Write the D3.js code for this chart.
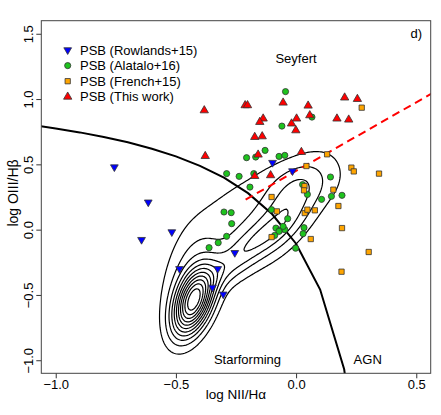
<!DOCTYPE html>
<meta charset="utf-8">
<title>BPT diagram - PSB</title>
<style>
  body { margin: 0; background: #fff; }
  text { font-family: "Liberation Sans", Arial, sans-serif; fill: #000; }
</style>
<body>
<script src="https://d3js.org/d3.v7.min.js"></script>
<script>
// ---- data (log NII/Ha, log OIII/Hb) ----
const rowlands = [[-0.756,0.479],[-0.615,0.210],[-0.643,-0.077],[-0.517,-0.018],[-0.485,-0.300],
  [-0.326,-0.300],[-0.255,-0.177],[-0.348,-0.442],[-0.303,-0.495],[-0.098,0.513],[-0.015,0.449]];

const alatalo = [[-0.044,1.057],[0.066,0.862],[-0.059,0.793],[-0.129,0.607],[-0.206,0.551],[-0.168,0.556],
  [-0.071,0.561],[-0.047,0.569],[-0.289,0.429],[-0.237,0.408],[-0.176,0.429],[0.143,0.403],[0.027,0.345],
  [-0.192,0.326],[0.047,0.270],[0.147,0.255],[0.191,0.263],[0.106,0.232],[-0.300,0.135],[-0.270,0.130],
  [-0.268,0.046],[-0.289,-0.051],[-0.324,-0.100],[-0.362,-0.138],[-0.102,0.153],[-0.035,0.084],
  [-0.084,0.012],[-0.068,-0.005],[-0.047,0.000],[-0.071,-0.013],[-0.054,0.025],[-0.089,-0.044],
  [0.033,0.015],[0.029,-0.031],[-0.002,-0.142]];

const french = [[0.273,0.934],[0.129,0.577],[0.043,0.487],[0.230,0.475],[0.240,0.446],[0.345,0.429],
  [0.035,0.334],[0.033,0.301],[0.155,0.306],[-0.102,0.250],[-0.080,0.140],[0.036,0.127],[0.047,0.153],
  [0.078,0.148],[0.176,0.181],[0.191,0.012],[0.061,-0.072],[-0.102,-0.057],[0.189,-0.322],[0.302,-0.171]];

const thisWork = [[-0.382,0.913],[-0.212,0.952],[-0.202,0.952],[-0.054,0.972],[0.050,0.949],[0.202,1.011],
  [0.255,1.000],[0.057,0.875],[-0.137,0.850],[-0.151,0.824],[0.002,0.850],[-0.019,0.812],[-0.001,0.760],
  [0.170,0.850],[0.219,0.842],[-0.172,0.709],[-0.141,0.714],[-0.378,0.563],[-0.158,0.574],[0.022,0.594],
  [-0.172,0.410],[-0.106,0.416]];

// SDSS background density, described as a few smooth lobes (centre, spread, correlation, height)
const sdssLobes = [
  {x: -0.43,  y: -0.55, sx: 0.058, sy: 0.175, rho: 0.45, w: 0.95},
  {x: -0.45,  y: -0.35, sx: 0.07,  sy: 0.30,  rho: 0.30, w: 0.12},
  {x: -0.31,  y: -0.33, sx: 0.08,  sy: 0.11,  rho: 0.60, w: 0.12},
  {x: -0.23,  y: -0.18, sx: 0.08,  sy: 0.11,  rho: 0.60, w: 0.12},
  {x: -0.15,  y: -0.04, sx: 0.08,  sy: 0.11,  rho: 0.60, w: 0.12},
  {x: -0.04,  y: 0.14,  sx: 0.09,  sy: 0.22,  rho: 0.60, w: 0.20},
  {x: -0.15,  y: 0.08,  sx: 0.256, sy: 0.396, rho: 0.78, w: 0.15},
  {x: 0.00,   y: 0.38,  sx: 0.12,  sy: 0.12,  rho: 0.00, w: 0.06},
  {x: -0.30,  y: 0.20,  sx: 0.10,  sy: 0.20,  rho: 0.60, w: 0.05}
];
const contourLevels = [1,2,3,4,5,6,7,8,9,10,11].map(k => k / 12);

// Kewley+01 maximum starburst line, sampled every 0.1 dex
const kewleyX = [-1.2,-1.1,-1.0,-0.9,-0.8,-0.7,-0.6,-0.5,-0.4,-0.3,-0.2,-0.1,0.0,0.1,0.2,0.3];
const kewley = v => 0.61 / (v - 0.47) + 1.19;
// Seyfert / LINER division (Schawinski+07)
const seyfertX = [-0.21, 0.6];
const seyfert = v => 1.05 * v + 0.45;

const xTicks = [-1.0, -0.5, 0.0, 0.5];
const yTicks = [-1.0, -0.5, 0.0, 0.5, 1.0, 1.5];

const legendItems = [
  {label: "PSB (Rowlands+15)", shape: "down", fill: "#0000ff"},
  {label: "PSB (Alatalo+16)", shape: "circle", fill: "#1ec31e"},
  {label: "PSB (French+15)", shape: "square", fill: "#ffa500"},
  {label: "PSB (This work)", shape: "up", fill: "#ff0000"}
];

// ---- layout ----
const width = 441, height = 415;
const m = {left: 41.3, right: 430.7, top: 20.7, bottom: 373.3};

const x = d3.scaleLinear().domain([-1.06, 0.56]).range([m.left, m.right]);
const y = d3.scaleLinear().domain([-1.1, 1.6]).range([m.bottom, m.top]);

const svg = d3.select("body").append("svg")
    .attr("width", width)
    .attr("height", height);

svg.append("clipPath").attr("id", "plotclip")
  .append("rect")
    .attr("x", m.left).attr("y", m.top)
    .attr("width", m.right - m.left).attr("height", m.bottom - m.top);

const g = svg.append("g").attr("clip-path", "url(#plotclip)");

// density contours
function density(px, py) {
    let s = 0;
    for (const b of sdssLobes) {
        const u = (px - b.x) / b.sx, v = (py - b.y) / b.sy;
        const q = (u * u - 2 * b.rho * u * v + v * v) / (1 - b.rho * b.rho);
        s += b.w * Math.exp(-0.5 * q);
    }
    return s;
}

const cell = 1.5;
const gw = Math.ceil((m.right - m.left) / cell), gh = Math.ceil((m.bottom - m.top) / cell);
const grid = new Float64Array(gw * gh);
for (let j = 0; j < gh; j++) {
    for (let i = 0; i < gw; i++) {
        grid[j * gw + i] = density(x.invert(m.left + i * cell), y.invert(m.top + j * cell));
    }
}
const peak = d3.max(grid);
const contours = d3.contours().size([gw, gh])
    .thresholds(contourLevels.map(l => l * peak))(grid);

const gridPath = d3.geoPath(d3.geoTransform({
    point: function(px, py) { this.stream.point(m.left + px * cell, m.top + py * cell); }
}));

g.append("g").selectAll("path")
  .data(contours)
  .join("path")
    .attr("d", gridPath)
    .attr("fill", "none")
    .attr("stroke", "#000")
    .attr("stroke-width", 1.2);

// demarcation lines
g.append("path")
    .datum(kewleyX)
    .attr("d", d3.line().x(d => x(d)).y(d => y(kewley(d))))
    .attr("fill", "none")
    .attr("stroke", "#000")
    .attr("stroke-width", 2);

g.append("path")
    .datum(seyfertX)
    .attr("d", d3.line().x(d => x(d)).y(d => y(seyfert(d))))
    .attr("fill", "none")
    .attr("stroke", "#ff0000")
    .attr("stroke-width", 2)
    .attr("stroke-dasharray", "8,5");

// markers
const shapes = {
    down: d3.symbol(d3.symbolTriangle, 26),
    up: d3.symbol(d3.symbolTriangle, 30),
    circle: d3.symbol(d3.symbolCircle, 30),
    square: d3.symbol(d3.symbolSquare, 28)
};
function drawPoints(data, item) {
    g.append("g").selectAll("path")
      .data(data)
      .join("path")
        .attr("d", shapes[item.shape])
        .attr("transform", d => `translate(${x(d[0])},${y(d[1])})` + (item.shape === "down" ? " rotate(180)" : ""))
        .attr("fill", item.fill)
        .attr("stroke", "#333")
        .attr("stroke-width", 0.8);
}
drawPoints(rowlands, legendItems[0]);
drawPoints(alatalo, legendItems[1]);
drawPoints(french, legendItems[2]);
drawPoints(thisWork, legendItems[3]);

// axes
const xAxis = svg.append("g")
    .attr("transform", `translate(0,${m.bottom})`)
    .call(d3.axisBottom(x).tickValues(xTicks).tickFormat(d3.format(".1f")).tickSize(5).tickPadding(1));
const yAxis = svg.append("g")
    .attr("transform", `translate(${m.left},0)`)
    .call(d3.axisLeft(y).tickValues(yTicks).tickFormat(d3.format(".1f")).tickSize(5));
for (const ax of [xAxis, yAxis]) {
    ax.select(".domain").remove();
    ax.selectAll("line").attr("stroke", "#333");
    ax.selectAll("text").attr("font-size", 13).attr("font-family", null);
}
yAxis.selectAll("text")
    .attr("x", null).attr("dy", null)
    .attr("text-anchor", "middle")
    .attr("transform", "translate(-8.3,0) rotate(-90)");

svg.append("rect")
    .attr("x", m.left).attr("y", m.top)
    .attr("width", m.right - m.left).attr("height", m.bottom - m.top)
    .attr("fill", "none")
    .attr("stroke", "#444")
    .attr("stroke-width", 1);

svg.append("text")
    .attr("x", 236).attr("y", 399)
    .attr("text-anchor", "middle").attr("font-size", 13.5)
    .text("log NII/Hα");
svg.append("text")
    .attr("transform", "translate(17.5,193) rotate(-90)")
    .attr("text-anchor", "middle").attr("font-size", 14)
    .text("log OIII/Hβ");

// region labels
const labels = [
    {text: "Seyfert", x: 296, y: 63, anchor: "middle"},
    {text: "Starforming", x: 247.5, y: 364, anchor: "middle"},
    {text: "AGN", x: 367.7, y: 364, anchor: "middle"},
    {text: "d)", x: 422, y: 38, anchor: "end"}
];
svg.append("g").selectAll("text")
  .data(labels)
  .join("text")
    .attr("x", d => d.x).attr("y", d => d.y)
    .attr("text-anchor", d => d.anchor)
    .attr("font-size", 13)
    .text(d => d.text);

// legend
const legend = svg.append("g").selectAll("g")
  .data(legendItems)
  .join("g")
    .attr("transform", (d, i) => `translate(67.7,${50 + i * 15.6})`);
legend.append("path")
    .attr("d", d => shapes[d.shape]())
    .attr("transform", d => d.shape === "down" ? "rotate(180)" : null)
    .attr("fill", d => d.fill)
    .attr("stroke", "#333")
    .attr("stroke-width", 0.8);
legend.append("text")
    .attr("x", 12.3).attr("y", 4.6)
    .attr("font-size", 13)
    .text(d => d.label);
</script>
</body>
